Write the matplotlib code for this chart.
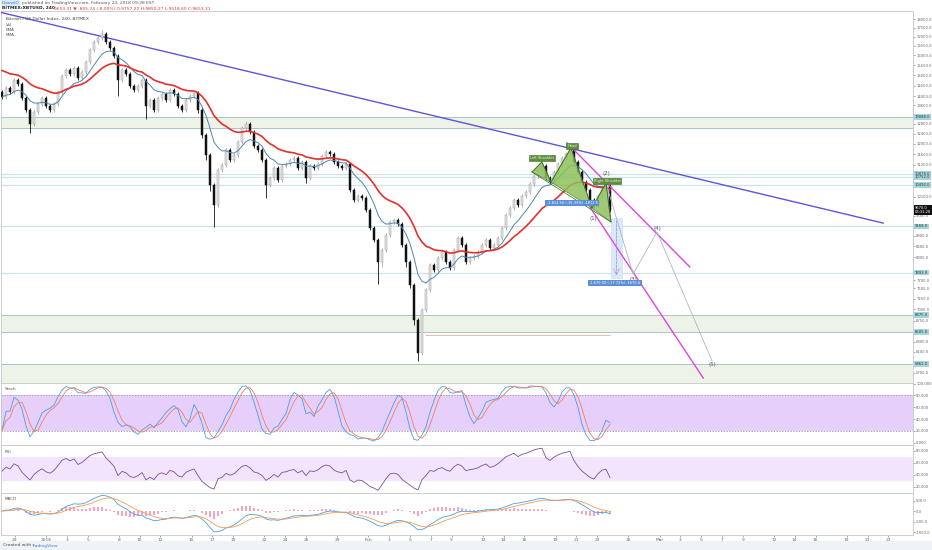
import numpy as np
import pandas as pd
import matplotlib
matplotlib.use("Agg")
import matplotlib.pyplot as plt
from matplotlib.patches import Rectangle, Polygon
from matplotlib.ticker import NullLocator, FixedLocator, FuncFormatter

W, H = 932, 550

# bars: days counted from 1 Jan 2018, one bar every ~9.2 h
bar_start = -4.23
bar_step = 0.3846
open_first = 14200
closes = [
    13970, 14380, 14200, 14760, 14570, 13925, 13390, 12790, 13305, 13655,
    13925, 13565, 13390, 13655, 14200, 14950, 15250, 15050, 15350, 14860,
    15150, 15650, 16275, 16700, 16920, 17145, 16700, 16380, 15970, 14760,
    15250, 15050, 14475, 14290, 14475, 14760, 13565, 13830, 13390, 13925,
    14105, 13830, 14290, 14105, 13565, 13390, 13830, 14015, 14150, 13390,
    12350, 11570, 10490, 9830, 11015, 11200, 11755, 11380, 11570, 12070,
    12630, 12790, 12470, 11910, 11755, 11380, 10490, 10735, 11090, 10665,
    11160, 11235, 11380, 11455, 11090, 11305, 10735, 11160, 11090, 11235,
    11530, 11680, 11605, 11305, 11160, 11090, 11235, 10320, 9990, 10120,
    10055, 9670, 9120, 8770, 8165, 8490, 8915, 9300, 9360, 9240,
    8630, 8165, 7575, 6760, 6070, 6985, 7455, 8090, 7955, 8275,
    8435, 8165, 8010, 8490, 8825, 8630, 8165, 8275, 8330, 8435,
    8630, 8770, 8545, 8630, 8825, 9120, 9515, 9735, 9990, 9830,
    10120, 10255, 10525, 10805, 11015, 11160, 10735, 10595, 10945, 11235,
    11455, 11605, 11755, 11305, 10945, 10595, 10320, 9990, 9800, 10120,
    10390, 10455, 9670,
]
# wick lengths in tenths of a percent beyond the body
wick_up = [
    6, 6, 6, 6, 6, 6, 6, 6, 6, 6,
    6, 6, 6, 6, 6, 6, 6, 6, 6, 6,
    6, 6, 8, 6, 6, 12, 6, 6, 6, 6,
    6, 6, 6, 6, 6, 6, 6, 6, 6, 6,
    6, 6, 6, 6, 6, 6, 6, 6, 6, 6,
    6, 6, 6, 6, 8, 6, 6, 6, 6, 6,
    6, 10, 6, 6, 6, 6, 6, 6, 6, 6,
    6, 6, 6, 6, 6, 6, 6, 6, 6, 6,
    6, 8, 6, 6, 6, 6, 6, 6, 6, 6,
    6, 6, 6, 6, 6, 6, 6, 6, 6, 6,
    6, 6, 6, 6, 6, 6, 6, 6, 6, 6,
    6, 6, 6, 6, 6, 6, 6, 6, 6, 6,
    6, 6, 6, 6, 6, 6, 6, 6, 6, 6,
    6, 6, 6, 6, 8, 8, 6, 6, 6, 6,
    6, 6, 10, 6, 6, 6, 6, 6, 6, 6,
    6, 10, 6,
]
wick_dn = [
    6, 6, 6, 6, 6, 6, 6, 30, 6, 6,
    6, 6, 6, 6, 6, 6, 6, 6, 6, 6,
    6, 6, 6, 6, 6, 6, 6, 6, 6, 50,
    6, 6, 6, 6, 6, 6, 40, 6, 6, 6,
    6, 6, 6, 6, 6, 6, 6, 6, 6, 10,
    10, 15, 20, 70, 6, 6, 6, 6, 6, 6,
    6, 6, 6, 6, 6, 6, 40, 6, 6, 6,
    6, 6, 6, 6, 6, 6, 15, 6, 6, 6,
    6, 6, 6, 6, 6, 6, 6, 6, 6, 6,
    6, 6, 6, 6, 70, 15, 6, 6, 6, 6,
    6, 15, 10, 15, 25, 6, 6, 6, 6, 6,
    6, 6, 6, 6, 6, 6, 6, 6, 6, 6,
    6, 6, 6, 6, 6, 6, 6, 6, 6, 6,
    6, 6, 6, 6, 6, 6, 6, 6, 6, 6,
    6, 6, 6, 6, 6, 6, 6, 6, 6, 6,
    6, 6, 6,
]
red_ema_seed = 15350
rsi_seed_move = 180  # average gain/loss carried in from before the window

# drawings (day, price)
trend_days = [-4.4, 80.5]
trend_prices = [18400, 9270]
chan_up_days = [50.1, 61.9]
chan_up_prices = [12030, 8040]
chan_lo_days = [52.3, 63.2]
chan_lo_prices = [9770, 5600]
wave_days = [53.85, 56.45, 58.75, 64.05]
wave_prices = [10560, 7855, 9005, 5920]
wave_labels = [("(1)", 52.6, 9424), ("(2)", 53.85, 10900), ("(3)", 56.45, 7728),
               ("(4)", 58.75, 9094), ("(5)", 64.05, 5845)]
hs_days = [46.73, 47.69, 48.56, 50.48, 52.5, 53.85, 54.33]
hs_prices = [10944, 11307, 10594, 11834, 9735, 10560, 9302]
hs_labels = [("Left Shoulder", 47.69, 11455), ("Head", 50.58, 11911),
             ("Right Shoulder", 53.95, 10630)]
proj_days = [54.33, 55.38]
proj_prices = [9424, 7754]

zones = [(12628, 13088), (6505, 6875), (5480, 5862)]
levels = [10874, 10752, 10492, 9168, 7893]
short_level = (6441, 36.4, 54.2)
axis_boxes = [13088, 10874, 10752, 10492, 9168, 7893, 6875, 6505, 5862]

price_ticks = [18000, 17500, 17000, 16500, 16000, 15500, 15000, 14500, 14000,
               13600, 13200, 12800, 12400, 12000, 11600, 11200, 10100, 9800,
               9500, 8900, 8600, 8300, 8000, 7700, 7500, 7250, 7000, 6750,
               6300, 6100, 5700]
date_days = [-3, 0, 2, 4, 7, 9, 11, 14, 16, 18, 21, 23, 25, 28, 31, 33, 35, 37,
             39, 42, 44, 46, 49, 51, 53, 56, 59, 61, 63, 65, 67, 70, 72, 74, 77,
             79, 81]
date_text = ["29", "2018", "3", "5", "8", "10", "12", "15", "17", "19", "22",
             "24", "26", "29", "Feb", "3", "5", "7", "9", "12", "14", "16", "19",
             "21", "23", "26", "Mar", "3", "5", "7", "9", "12", "14", "16", "19",
             "21", "23"]

x_view = (-4.33, 83.37)
price_view = (5511, 18476)


def rect(x0, y0, x1, y1):
    return [x0 / W, 1 - y1 / H, (x1 - x0) / W, (y1 - y0) / H]


def ema(values, n, seed):
    a = 2.0 / (n + 1)
    out, e = [], seed
    for v in values:
        e = e + a * (v - e)
        out.append(e)
    return np.array(out)


def wilder_rsi(close, prev, n, seed):
    g, l, out = seed, seed, []
    for cur, before in zip(close, prev):
        ch = cur - before
        g = (g * (n - 1) + max(ch, 0)) / n
        l = (l * (n - 1) + max(-ch, 0)) / n
        out.append(100 - 100 / (1 + g / l))
    return np.array(out)


c = pd.Series(closes, dtype=float)
o = c.shift(1).fillna(open_first)
hi = np.maximum(o, c) * (1 + np.array(wick_up) / 1000)
lo = np.minimum(o, c) * (1 - np.array(wick_dn) / 1000)
t = bar_start + bar_step * np.arange(len(c))
up = (c >= o).values

blue = ema(c, 9, c.iloc[0])
red = ema(c, 21, red_ema_seed)

n = 7
ll = lo.rolling(n, min_periods=1).min()
hh = hi.rolling(n, min_periods=1).max()
k = (100 * (c - ll) / (hh - ll)).rolling(3, min_periods=1).mean()
d = k.rolling(3, min_periods=1).mean()

rsi = wilder_rsi(c, o, 9, rsi_seed_move)

macd = c.ewm(span=8, adjust=False).mean() - c.ewm(span=17, adjust=False).mean()
signal = macd.ewm(span=6, adjust=False).mean()
hist = macd - signal

fig = plt.figure(figsize=(W / 100, H / 100), dpi=100)
fig.patch.set_facecolor("white")

ax_p = fig.add_axes(rect(1, 11, 913, 383))
ax_s = fig.add_axes(rect(1, 383, 913, 445), sharex=ax_p)
ax_r = fig.add_axes(rect(1, 445, 913, 493), sharex=ax_p)
ax_m = fig.add_axes(rect(1, 493, 913, 535), sharex=ax_p)

for ax in (ax_p, ax_s, ax_r, ax_m):
    for sp in ax.spines.values():
        sp.set_color("#c3c7cc")
        sp.set_linewidth(0.6)
    ax.yaxis.tick_right()
    ax.tick_params(axis="y", direction="out", length=1.5, pad=0.8, labelsize=2.7,
                   colors="#666", width=0.4)
    ax.tick_params(axis="x", length=0, labelbottom=False)

# ---- price panel
ax_p.set_yscale("log")
ax_p.set_xlim(*x_view)
ax_p.set_ylim(*price_view)
ax_p.yaxis.set_minor_locator(NullLocator())
free_ticks = [p for p in price_ticks
              if min(abs(np.log(p / b)) for b in axis_boxes + [closes[-1]]) > 0.017]
ax_p.yaxis.set_major_locator(FixedLocator(free_ticks))
ax_p.yaxis.set_major_formatter(FuncFormatter(lambda v, p: f"{v:.1f}"))

for lo_z, hi_z in zones:
    ax_p.axhspan(lo_z, hi_z, color="#eef3e7", lw=0, zorder=0)
    ax_p.axhline(lo_z, color="#a9c3cf", lw=0.7, zorder=1)
    ax_p.axhline(hi_z, color="#a9c3cf", lw=0.7, zorder=1)
for lv in levels:
    ax_p.axhline(lv, color="#cfe2ea", lw=0.9, zorder=1)
ax_p.hlines(short_level[0], short_level[1], short_level[2], color="#f3b9a9", lw=0.7)

ax_p.plot(trend_days, trend_prices, color="#5c57d8", lw=1.0, zorder=3)

ax_p.vlines(t, lo, hi, colors=np.where(up, "#a9a9a9", "#111111"), lw=0.6, zorder=4)
body_lo = np.minimum(o, c)
body_h = np.abs(c - o)
ax_p.bar(t, body_h, bottom=body_lo, width=bar_step * 0.62,
         color=np.where(up, "#e2e2e2", "#111111"),
         edgecolor=np.where(up, "#a0a0a0", "#111111"), linewidth=0.35, zorder=5)

ax_p.plot(t, blue, color="#4f86b0", lw=0.7, zorder=6)
ax_p.plot(t, red, color="#e3302c", lw=1.2, zorder=6)

# head & shoulders
hs = list(zip(hs_days, hs_prices))
for tri in (hs[0:3], hs[2:5], hs[4:7]):
    ax_p.add_patch(Polygon(tri, closed=True, fc="#8cc15a", ec="#4d7f2f", lw=0.5,
                           alpha=0.85, zorder=7))
ax_p.plot(hs_days, hs_prices, color="#3f6e28", lw=0.6, zorder=8)
ax_p.plot([hs_days[0], hs_days[-1]], [hs_prices[0], hs_prices[-1]],
          color="#3f6e28", lw=0.5, zorder=8)
for txt, xd, yp in hs_labels:
    ax_p.text(xd, yp, txt, fontsize=2.6, color="#e8f4dc", ha="center", va="center",
              zorder=9, bbox=dict(boxstyle="square,pad=0.25", fc="#5f8f3e",
                                  ec="#3f6e28", lw=0.4))
ax_p.text(50.58, 9895, "-1,812.50 (-15.33%) -1812.5", fontsize=2.6, color="white",
          ha="center", va="center", zorder=9,
          bbox=dict(boxstyle="square,pad=0.3", fc="#5b8fd8", ec="none"))

# elliott projection
ax_p.plot(chan_up_days, chan_up_prices, color="#e044e0", lw=1.0, zorder=6)
ax_p.plot(chan_lo_days, chan_lo_prices, color="#e044e0", lw=1.0, zorder=6)
ax_p.plot(wave_days, wave_prices, color="#aab8c8", lw=0.6, zorder=6)
for txt, xd, yp in wave_labels:
    ax_p.text(xd, yp, txt, fontsize=4, color="#555", ha="center", va="center", zorder=9)
ax_p.add_patch(Rectangle((proj_days[0], proj_prices[1]), proj_days[1] - proj_days[0],
                         proj_prices[0] - proj_prices[1], fc="#dbe8fb", ec="#a9c2ea",
                         lw=0.5, ls=":", zorder=5))
mid = (proj_days[0] + proj_days[1]) / 2
ax_p.annotate("", xy=(mid, proj_prices[1]), xytext=(mid, proj_prices[0]),
              arrowprops=dict(arrowstyle="->", color="#8a9bb5", lw=0.5, ls="--"),
              zorder=6)
ax_p.text(54.7, 7628, "-1,670.00 (-17.72%) -1670.0", fontsize=2.6, color="white",
          ha="center", va="center", zorder=9,
          bbox=dict(boxstyle="square,pad=0.3", fc="#5b8fd8", ec="none"))

# right-axis price boxes
for lv in axis_boxes:
    ax_p.text(1.002, lv, f"{lv:.1f}", transform=ax_p.get_yaxis_transform(),
              fontsize=2.7, color="#1e3a40", ha="left", va="center", clip_on=False,
              zorder=10, bbox=dict(boxstyle="square,pad=0.2", fc="#a7d6da", ec="none"))
last = closes[-1]
ax_p.text(1.002, last, f"{last:.1f}\n03:31:28", transform=ax_p.get_yaxis_transform(),
          fontsize=2.6, color="white", ha="left", va="center", clip_on=False,
          zorder=10, linespacing=1.0,
          bbox=dict(boxstyle="square,pad=0.2", fc="#111111", ec="none"))

ax_p.text(0.005, 0.985, "Bitcoin / US Dollar Index, 240, BITMEX", transform=ax_p.transAxes,
          fontsize=3.2, color="#444", va="top")
for j, lab in enumerate(["Vol", "EMA", "EMA"]):
    ax_p.text(0.005, 0.968 - j * 0.014, lab, transform=ax_p.transAxes,
              fontsize=3.0, color="#555", va="top")

# ---- stochastic
ax_s.set_ylim(-4, 101)
ax_s.axhspan(20, 80, color="#e6d0fb", lw=0)
ax_s.axhline(80, color="#8c8c8c", lw=0.5, ls=(0, (2, 2)))
ax_s.axhline(20, color="#8c8c8c", lw=0.5, ls=(0, (2, 2)))
ax_s.plot(t, k, color="#4a9ee6", lw=0.6)
ax_s.plot(t, d, color="#f07f5a", lw=0.6)
ax_s.yaxis.set_major_locator(FixedLocator([0, 20, 40, 60, 80, 100]))
ax_s.yaxis.set_major_formatter(FuncFormatter(lambda v, p: f"{v:.3f}"))
ax_s.text(0.004, 0.93, "Stoch", transform=ax_s.transAxes, fontsize=3.0, color="#555", va="top")

# ---- rsi
ax_r.set_ylim(10, 90)
ax_r.axhspan(30, 70, color="#f1e4fc", lw=0)
ax_r.plot(t, rsi, color="#7a4f98", lw=0.6)
ax_r.yaxis.set_major_locator(FixedLocator([20, 40, 60, 80]))
ax_r.yaxis.set_major_formatter(FuncFormatter(lambda v, p: f"{v:.3f}"))
ax_r.text(0.004, 0.9, "RSI", transform=ax_r.transAxes, fontsize=3.0, color="#555", va="top")

# ---- macd
m_hi = max(macd.max(), signal.max()) * 1.15
m_lo = min(macd.min(), signal.min()) * 1.15
ax_m.set_ylim(m_lo, m_hi)
ax_m.bar(t, hist, width=bar_step * 0.5, color="#f4a6be", lw=0)
ax_m.plot(t, macd, color="#4a9ee6", lw=0.6)
ax_m.plot(t, signal, color="#f59a55", lw=0.6)
step = 500 if (m_hi - m_lo) > 1200 else 250
ax_m.yaxis.set_major_locator(FixedLocator(np.arange(-3000, 3001, step)))
ax_m.yaxis.set_major_formatter(FuncFormatter(lambda v, p: f"{v:.1f}"))
ax_m.text(0.004, 0.9, "MACD", transform=ax_m.transAxes, fontsize=3.0, color="#555", va="top")

ax_m.set_xticks(date_days)
ax_m.set_xticklabels(date_text)
ax_m.tick_params(axis="x", length=1.5, width=0.4, pad=0.5, labelsize=3.2,
                 colors="#666", labelbottom=True)

# ---- header and footer
fig.text(2 / W, 1 - 3 / H, "DowwiO", fontsize=3.2, color="#3a7bd5", va="center",
         bbox=dict(boxstyle="square,pad=0.15", fc="#dceafb", ec="none"))
fig.text(22 / W, 1 - 3 / H, "published on TradingView.com, February 24, 2018 09:28 EST",
         fontsize=3.2, color="#555", va="center")
fig.text(2 / W, 1 - 8 / H, "BITMEX:XBTUSD, 240", fontsize=3.2, color="#222",
         va="center", weight="bold")
fig.text(54 / W, 1 - 8 / H,
         "9653.31 \u25bc -805.24 (-8.00%) O:9757.22 H:9850.27 L:9518.60 C:9653.31",
         fontsize=3.2, color="#d9352f", va="center")

fig.patches.append(Rectangle((0, 0), 1, 9 / H, transform=fig.transFigure,
                             fc="#f0f3f6", ec="none", zorder=-1))
fig.text(3 / W, 4.5 / H, "Created with", fontsize=3.2, color="#444", va="center")
fig.text(31 / W, 4.5 / H, "TradingView", fontsize=3.2, color="#3a7bd5", va="center")

fig.savefig("out.png", dpi=100)
